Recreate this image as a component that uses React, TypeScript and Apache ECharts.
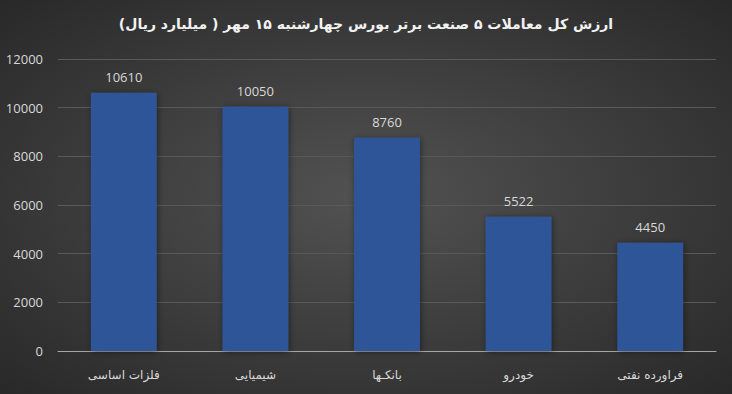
import React, { useEffect, useRef } from "react";
import * as echarts from "echarts";

const titleText = "ارزش کل معاملات ۵ صنعت برتر بورس چهارشنبه ۱۵ مهر ( میلیارد ریال)";
const categories = ["فلزات اساسی", "شیمیایی", "بانکـها", "خودرو", "فراورده نفتی"];
const values = [10610, 10050, 8760, 5522, 4450];
const yTicks = { min: 0, max: 12000, interval: 2000 };

export default function App() {
  const ref = useRef<HTMLDivElement>(null);
  useEffect(() => {
    document.body.style.margin = "0";
    const chart = echarts.init(ref.current!, null, { renderer: "svg" });
    chart.setOption({
      animation: false,
      backgroundColor: new echarts.graphic.RadialGradient(0.5, 0.5, 0.75, [
        { offset: 0, color: "#525252" },
        { offset: 1, color: "#262626" },
      ]),
      title: {
        text: titleText,
        left: "center",
        top: 12,
        textStyle: {
          color: "#f2f2f2",
          fontSize: 14,
          fontWeight: "bold",
          fontFamily: "DejaVu Sans",
        },
      },
      grid: { left: 58, right: 16, top: 59, bottom: 43 },
      xAxis: {
        type: "category",
        data: categories,
        axisLine: { lineStyle: { color: "#a6a6a6", width: 1 } },
        axisTick: { show: false },
        axisLabel: {
          color: "#d9d9d9",
          fontSize: 12,
          fontFamily: "DejaVu Sans",
          margin: 18,
        },
      },
      yAxis: {
        type: "value",
        min: yTicks.min,
        max: yTicks.max,
        interval: yTicks.interval,
        axisLine: { show: false },
        axisTick: { show: false },
        splitLine: { lineStyle: { color: "#595959", width: 1 } },
        axisLabel: {
          color: "#d9d9d9",
          fontSize: 13,
          fontFamily: "Open Sans",
          margin: 15,
          formatter: (v: number) => String(v),
        },
      },
      series: [
        {
          type: "bar",
          data: values,
          barWidth: "50%",
          itemStyle: {
            color: "#2f5597",
            shadowColor: "rgba(0,0,0,0.45)",
            shadowBlur: 6,
            shadowOffsetX: 1,
            shadowOffsetY: 1,
          },
          label: {
            show: true,
            position: "top",
            distance: 9,
            color: "#d9d9d9",
            fontSize: 13,
            fontFamily: "Open Sans",
          },
        },
      ],
    });
    return () => chart.dispose();
  }, []);
  return <div ref={ref} style={{ width: 732, height: 394 }} />;
}
